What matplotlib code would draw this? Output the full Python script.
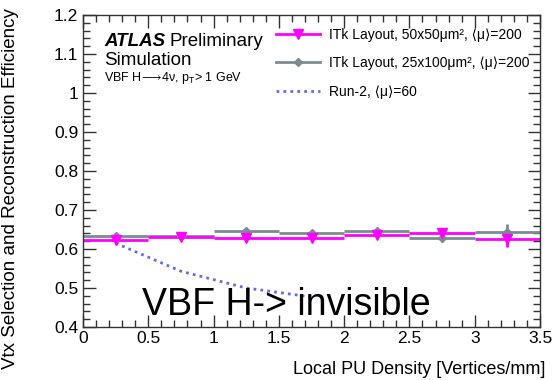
import matplotlib
matplotlib.use("Agg")
import matplotlib.pyplot as plt
from matplotlib.ticker import MultipleLocator
from matplotlib.lines import Line2D

plt.rcParams['font.family'] = ['Liberation Sans', 'DejaVu Sans']
plt.rcParams['mathtext.fontset'] = 'custom'
plt.rcParams['mathtext.rm'] = 'Liberation Sans'
plt.rcParams['mathtext.it'] = 'Liberation Sans:italic'
plt.rcParams['mathtext.fallback'] = 'stixsans'

bin_centers = [0.25, 0.75, 1.25, 1.75, 2.25, 2.75, 3.25]
bin_halfwidth = 0.25
eff_50x50 = [0.624, 0.631, 0.629, 0.628, 0.636, 0.640, 0.625]
err_50x50 = [0.006, 0.006, 0.007, 0.007, 0.008, 0.010, 0.020]
eff_25x100 = [0.633, 0.633, 0.647, 0.640, 0.646, 0.627, 0.644]
err_25x100 = [0.006, 0.006, 0.007, 0.007, 0.008, 0.010, 0.020]
run2_x = [0.25, 0.75, 1.25, 1.75]
run2_eff = [0.615, 0.543, 0.500, 0.477]

c_mag = '#ff00ff'
c_gray = '#7a8c90'
c_blue = '#6a6ae0'

fig = plt.figure(figsize=(5.52, 3.8), dpi=100)
ax = fig.add_axes([83/552, 1-327/380, (540-83)/552, (327-15)/380])

ax.errorbar(bin_centers, eff_25x100, xerr=bin_halfwidth, yerr=err_25x100,
            fmt='D', ms=4, color=c_gray, ecolor=c_gray, elinewidth=2, capsize=0)
ax.errorbar(bin_centers, eff_50x50, xerr=bin_halfwidth, yerr=err_50x50,
            fmt='v', ms=7, color=c_mag, ecolor=c_mag, elinewidth=2, capsize=0)
ax.plot(run2_x, run2_eff, linestyle=(0, (1.0, 1.5)), color=c_blue, lw=2)

ax.set_xlim(0, 3.5)
ax.set_ylim(0.4, 1.2)
ax.xaxis.set_minor_locator(MultipleLocator(0.1))
ax.yaxis.set_minor_locator(MultipleLocator(0.02))
ax.set_yticks([0.4, 0.5, 0.6, 0.7, 0.8, 0.9, 1.0, 1.1, 1.2])
ax.set_yticklabels(['0.4', '0.5', '0.6', '0.7', '0.8', '0.9', '1', '1.1', '1.2'])
ax.set_xticks([0, 0.5, 1, 1.5, 2, 2.5, 3, 3.5])
ax.set_xticklabels(['0', '0.5', '1', '1.5', '2', '2.5', '3', '3.5'])
ax.tick_params(which='both', direction='in', top=True, right=True, labelsize=12.5, color='#333333')
ax.tick_params(which='major', length=9, width=1)
ax.tick_params(which='minor', length=5, width=1)
ax.tick_params(axis='x', pad=3)
for s in ax.spines.values():
    s.set_color('#333333')
    s.set_linewidth(1)

ax.set_ylabel('Vtx Selection and Reconstruction Efficiency', fontsize=13.5)
ax.yaxis.set_label_coords(-0.14, 0.445)
ax.set_xlabel('Local PU Density [Vertices/mm]', fontsize=13)
ax.xaxis.set_label_coords(1.011, -0.11)
ax.xaxis.label.set_horizontalalignment('right')

ax.text(0.047, 0.915, 'ATLAS', transform=ax.transAxes, fontsize=13.5, fontweight='bold',
        fontstyle='italic', va='center')
ax.text(0.19, 0.915, 'Preliminary', transform=ax.transAxes, fontsize=13.5, va='center')
ax.text(0.047, 0.855, 'Simulation', transform=ax.transAxes, fontsize=13.5, va='center')
ax.text(0.047, 0.797, 'VBF H$\\!\\longrightarrow\\!$4\u03bd, p$_\\mathrm{T}$> 1 GeV', transform=ax.transAxes,
        fontsize=9, va='center')
ax.text(0.13, 0.07, 'VBF H-> invisible', transform=ax.transAxes, fontsize=27, va='center')

handles = [
    Line2D([], [], color=c_mag, lw=2, marker='v', ms=7),
    Line2D([], [], color=c_gray, lw=2, marker='D', ms=4),
    Line2D([], [], color=c_blue, lw=2, linestyle=(0, (1.0, 1.5))),
]
labels = [
    'ITk Layout, 50x50\u03bcm\u00b2, \u27e8\u03bc\u27e9=200',
    'ITk Layout, 25x100\u03bcm\u00b2, \u27e8\u03bc\u27e9=200',
    'Run-2, \u27e8\u03bc\u27e9=60',
]
ax.legend(handles, labels, loc='upper left', bbox_to_anchor=(0.395, 1.0), frameon=False,
          fontsize=10, handlelength=3.2, labelspacing=1.05, handletextpad=0.6)

fig.savefig('out.png', dpi=100)
